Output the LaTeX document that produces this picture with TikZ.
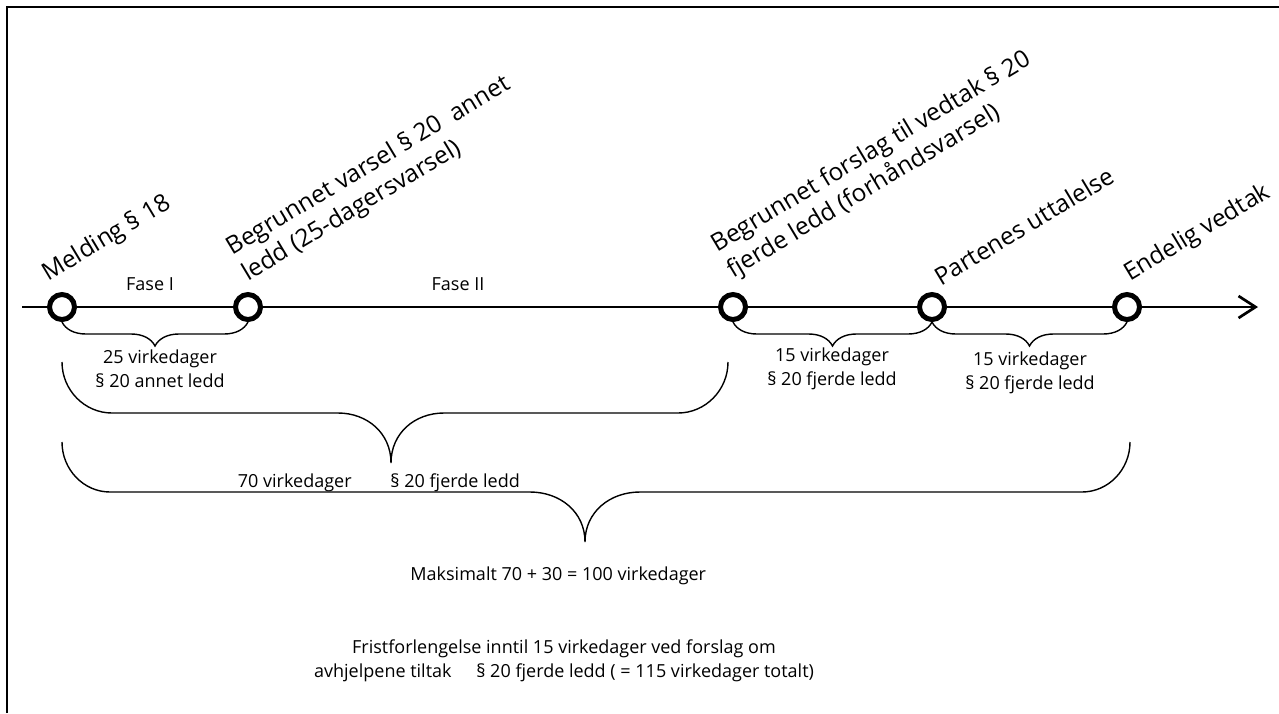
\documentclass[tikz,border=0pt]{standalone}
\usepackage{fontspec}
\setmainfont{Open Sans}
\usetikzlibrary{arrows.meta,decorations.pathreplacing}

% stor klamme: x1, xtip, x2, ytopp, ylinje, ytupp, radius, tuppbredde
\newcommand{\storklamme}[8]{%
  \draw[klamme] (#1,#4) .. controls +(0,{0.55*(#5-#4)}) and +({-0.55*#7},0) .. ({#1+#7},#5)
    -- ({#2-#8},#5) .. controls +({0.55*#8},0) and +(0,{-0.6*(#6-#5)}) .. (#2,#6)
    .. controls +(0,{-0.6*(#6-#5)}) and +({-0.55*#8},0) .. ({#2+#8},#5)
    -- ({#3-#7},#5) .. controls +({0.55*#7},0) and +(0,{0.55*(#5-#4)}) .. (#3,#4);
}

\begin{document}
\begin{tikzpicture}[x=0.5pt,y=-0.5pt,
    ramme/.style={line width=1.2pt},
    akse/.style={line width=1.35pt,-{Straight Barb[length=8.5pt,width=11pt]}},
    punkt/.style={circle,draw,fill=white,line width=2.5pt,minimum size=12.5pt,inner sep=0pt},
    hendelse/.style={anchor=south west,rotate=31,align=left,inner sep=0pt,
        font=\fontsize{12.2}{15}\selectfont},
    klamme/.style={line width=0.7pt},
    liten klamme/.style={klamme,decorate,decoration={brace,mirror,amplitude=12pt}},
    tekst/.style={inner sep=0pt,align=center,font=\fontsize{9}{12}\selectfont}]

    \useasboundingbox (0,0) rectangle (1279,713);
    \draw[ramme] (7,713) -- (7,7) -- (1279,7);

    % tidslinje
    \coordinate (start) at (22,307);
    \coordinate (slutt) at (1258,307);
    \draw[akse] (start) -- (slutt);

    \node[punkt] (melding) at (62,307) {};
    \node[punkt] (varsel) at (248,307) {};
    \node[punkt] (forslag) at (733,307) {};
    \node[punkt] (uttalelse) at (932,307) {};
    \node[punkt] (vedtak) at (1127,307) {};

    \node[hendelse] (lmelding) at (51,287) {Melding § 18};
    \node[hendelse] (lvarsel) at (251,287) {Begrunnet varsel § 20 \ annet\\ledd (25-dagersvarsel)};
    \node[hendelse] (lforslag) at (736,284) {Begrunnet forslag til vedtak § 20\\fjerde ledd (forhåndsvarsel)};
    \node[hendelse] (luttalelse) at (941,287) {Partenes uttalelse};
    \node[hendelse] (lvedtak) at (1133,287) {Endelig vedtak};

    \node[tekst] (fase1) at (150,284) {Fase I};
    \node[tekst] (fase2) at (458,284) {Fase II};

    % klammer under tidslinjen
    \draw[liten klamme] (melding.south) -- (varsel.south);
    \draw[liten klamme] (forslag.south) -- (uttalelse.south);
    \draw[liten klamme] (uttalelse.south) -- (vedtak.south);

    \node[tekst] (frist1) at (160,369) {25 virkedager\\§ 20 annet ledd};
    \node[tekst] (frist2) at (832,369) {15 virkedager\\§ 20 fjerde ledd};
    \node[tekst] (frist3) at (1030,373) {15 virkedager\\§ 20 fjerde ledd};

    \storklamme{62}{391}{728}{362}{413}{463}{50}{53}
    \storklamme{62}{585}{1130}{442}{492}{542}{48}{55}

    \node[tekst,anchor=base east] (sum1) at (352,487) {70 virkedager};
    \node[tekst,anchor=base west] (sum2) at (390,487) {§ 20 fjerde ledd};

    \node[tekst,anchor=base west] (maks) at (410,580) {Maksimalt 70 + 30 = 100 virkedager};

    \node[tekst] (forlengelse) at (564,661) {Fristforlengelse inntil 15 virkedager ved forslag om\\
        avhjelpene tiltak \hspace{10pt}§ 20 fjerde ledd ( = 115 virkedager totalt)};
\end{tikzpicture}
\end{document}
